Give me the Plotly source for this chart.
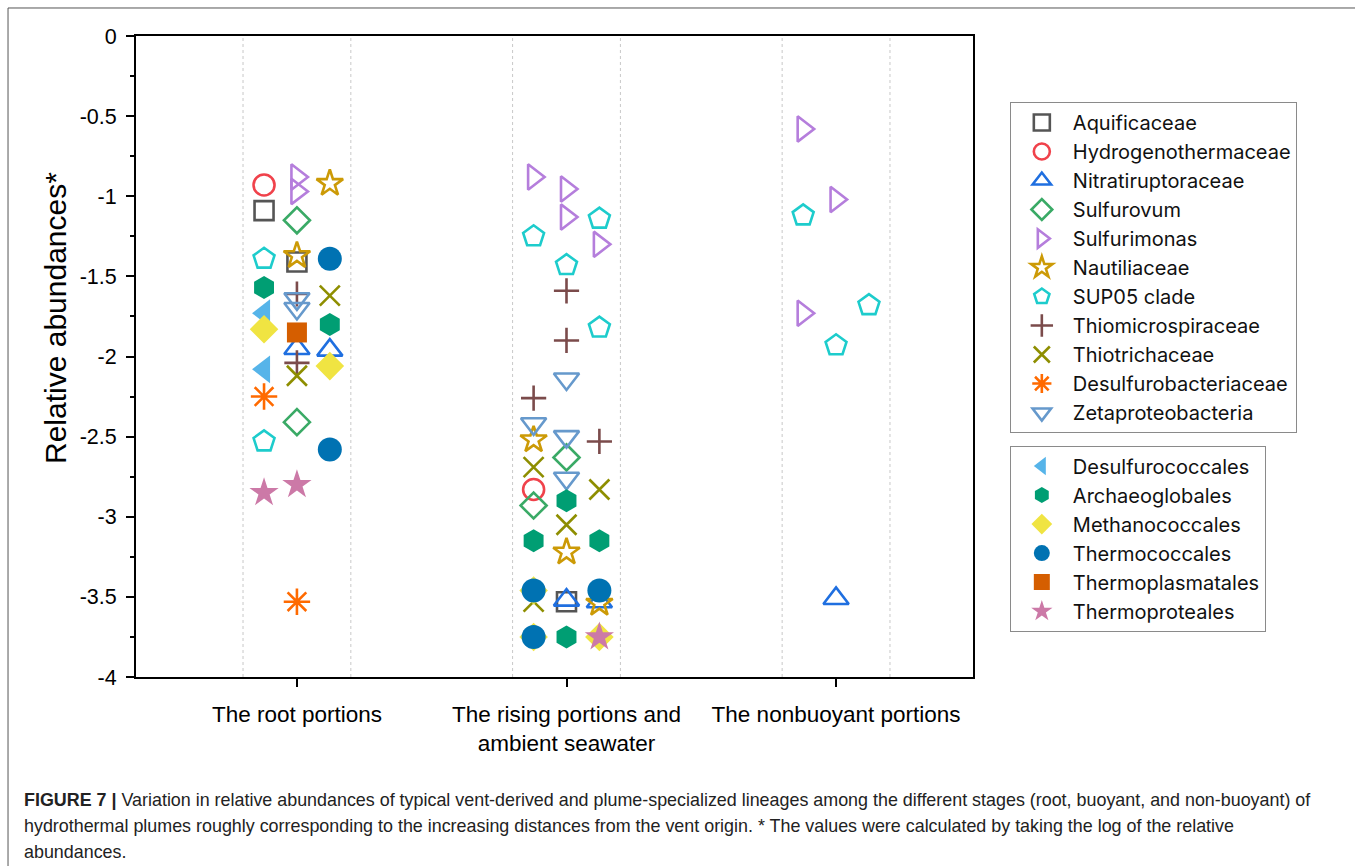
import plotly.graph_objects as go

# ---------------- data ----------------
stages = ["The root portions", "The rising portions and<br>ambient seawater", "The nonbuoyant portions"]
y_tick_vals = [0, -0.5, -1, -1.5, -2, -2.5, -3, -3.5, -4]
y_tick_text = ["0", "-0.5", "-1", "-1.5", "-2", "-2.5", "-3", "-3.5", "-4"]

# each point: (stage index, slot within stage: -1 left / 0 centre / 1 right, value)
aquificaceae = [(0, -1, -1.09), (0, 0, -1.41), (1, 0, -3.53)]
hydrogenothermaceae = [(0, -1, -0.93), (1, -1, -2.83)]
nitratiruptoraceae = [(0, 0, -1.95), (0, 1, -1.96), (1, 0, -3.52), (1, 1, -3.53), (2, 0, -3.51)]
sulfurovum = [(0, 0, -1.15), (0, 0, -2.41), (1, 0, -2.63), (1, -1, -2.93)]
sulfurimonas = [(0, 0, -0.88), (0, 0, -0.97), (1, -1, -0.88), (1, 0, -0.955), (1, 0, -1.13),
                (1, 1, -1.30), (2, -1, -0.58), (2, 0, -1.02), (2, -1, -1.73)]
nautiliaceae = [(0, 1, -0.92), (0, 0, -1.37), (1, -1, -2.52), (1, 0, -3.22), (1, 1, -3.54)]
sup05 = [(0, -1, -1.39), (0, -1, -2.53), (1, 1, -1.14), (1, -1, -1.25), (1, 0, -1.43),
         (1, 1, -1.82), (2, -1, -1.12), (2, 1, -1.68), (2, 0, -1.93)]
thiomicrospiraceae = [(0, 0, -1.61), (0, 0, -2.04), (1, 0, -1.59), (1, 0, -1.90), (1, -1, -2.26), (1, 1, -2.53)]
thiotrichaceae = [(0, 1, -1.62), (0, 0, -2.12), (1, -1, -2.69), (1, 1, -2.83), (1, 0, -3.05), (1, -1, -3.53)]
desulfurobacteriaceae = [(0, -1, -2.25), (0, 0, -3.53)]
zetaproteobacteria = [(0, 0, -1.64), (0, 0, -1.70), (1, 0, -2.14), (1, -1, -2.42), (1, 0, -2.50), (1, 0, -2.76)]
desulfurococcales = [(0, -1, -1.73), (0, -1, -2.08)]
archaeoglobales = [(0, -1, -1.57), (0, 1, -1.80), (1, 0, -2.90), (1, -1, -3.15), (1, 1, -3.15), (1, 0, -3.75)]
methanococcales = [(0, -1, -1.83), (0, 1, -2.06), (1, -1, -3.46), (1, -1, -3.75), (1, 1, -3.75)]
thermococcales = [(0, 1, -1.39), (0, 1, -2.58), (1, -1, -3.46), (1, 1, -3.46), (1, -1, -3.75)]
thermoplasmatales = [(0, 0, -1.85)]
thermoproteales = [(0, -1, -2.85), (0, 0, -2.80), (1, 1, -3.75)]

group1 = [
    ("Aquificaceae", aquificaceae, "square-open", "#555555", 19),
    ("Hydrogenothermaceae", hydrogenothermaceae, "circle-open", "#F0424B", 21),
    ("Nitratiruptoraceae", nitratiruptoraceae, "triangle-up-open", "#1F6FE0", 22),
    ("Sulfurovum", sulfurovum, "diamond-open", "#3AAA66", 20),
    ("Sulfurimonas", sulfurimonas, "triangle-right-open", "#B57EDC", 22),
    ("Nautiliaceae", nautiliaceae, "star-open", "#CC9A06", 20),
    ("SUP05 clade", sup05, "pentagon-open", "#1DCCCC", 22),
    ("Thiomicrospiraceae", thiomicrospiraceae, "cross-thin-open", "#7B4B4B", 18),
    ("Thiotrichaceae", thiotrichaceae, "x-thin-open", "#8E8E00", 20),
    ("Desulfurobacteriaceae", desulfurobacteriaceae, "asterisk-open", "#FF6A00", 22),
    ("Zetaproteobacteria", zetaproteobacteria, "triangle-down-open", "#6699CC", 22),
]
group2 = [
    ("Desulfurococcales", desulfurococcales, "triangle-left", "#56B4E9", 24),
    ("Archaeoglobales", archaeoglobales, "hexagon", "#009E73", 23),
    ("Methanococcales", methanococcales, "diamond", "#F0E442", 22),
    ("Thermococcales", thermococcales, "circle", "#0072B2", 24),
    ("Thermoplasmatales", thermoplasmatales, "square", "#D55E00", 20),
    ("Thermoproteales", thermoproteales, "star", "#CC79A7", 22),
]

SLOT = 0.122
FONT = "Liberation Sans, Arial, Helvetica, sans-serif"
LEGEND_FONT = "Inter, Liberation Sans, Arial, sans-serif"

fig = go.Figure()


def add_group(group, legend_name):
    for name, pts, sym, col, size in group:
        xs = [s + 1 + k * SLOT for s, k, v in pts]
        ys = [v for s, k, v in pts]
        is_open = sym.endswith("-open")
        fig.add_trace(go.Scatter(
            x=xs, y=ys, mode="markers", name=name, legend=legend_name,
            marker=dict(symbol=sym, size=size, color=col,
                        line=dict(width=2.6 if is_open else 0, color=col)),
        ))


add_group(group1, "legend")
add_group(group2, "legend2")

# dotted guide lines around each stage
for i in range(len(stages)):
    for d in (-0.2, 0.2):
        fig.add_shape(type="line", xref="x", yref="y domain", x0=i + 1 + d, x1=i + 1 + d, y0=0, y1=1,
                      line=dict(color="#c8c8c8", width=1, dash="dot"), layer="below")

# outer figure frame
fig.add_shape(type="rect", xref="paper", yref="paper", x0=-0.1529, x1=1.47, y0=-0.34, y1=1.0437,
              line=dict(color="#555555", width=1))

legend_common = dict(
    font=dict(family=LEGEND_FONT, size=20, color="#111111"),
    bgcolor="white", bordercolor="#8a8a8a", borderwidth=1,
    tracegroupgap=0, itemwidth=52,
    xanchor="left", yanchor="top", itemclick=False,
)

fig.update_layout(
    width=1355, height=866,
    margin=dict(l=136, r=382, t=36, b=189),
    plot_bgcolor="white", paper_bgcolor="white",
    font=dict(family=FONT, size=20, color="black"),
    legend=dict(x=1.044, y=0.897, **legend_common),
    legend2=dict(x=1.044, y=0.361, **legend_common),
    xaxis=dict(
        range=[0.403, 3.508], tickvals=[1, 2, 3], ticktext=stages,
        showgrid=False, zeroline=False, showline=True, linecolor="black", linewidth=2,
        mirror=True, ticks="outside", ticklen=8, tickwidth=2, tickcolor="black",
        tickfont=dict(family=FONT, size=22.5, color="black"), ticklabelstandoff=8,
    ),
    yaxis=dict(
        range=[-4, 0], tickvals=y_tick_vals, ticktext=y_tick_text,
        showgrid=False, zeroline=False, showline=True, linecolor="black", linewidth=2,
        mirror=True, ticks="outside", ticklen=8, tickwidth=2, tickcolor="black",
        tickfont=dict(family=FONT, size=21.5, color="black"), ticklabelstandoff=5,
        minor=dict(ticks="outside", ticklen=4, tickwidth=2, tickcolor="black", dtick=0.25, tick0=0, showgrid=False),
    ),
)

# y-axis title
fig.add_annotation(text="Relative abundances*", xref="paper", yref="paper",
                   x=(55 - 136) / 837, y=(677 - 318) / 641, textangle=-90,
                   xanchor="center", yanchor="middle", showarrow=False,
                   font=dict(family=FONT, size=30, color="black"))

CAP_FONT = "Liberation Sans, Arial, sans-serif"
caption_lines = [
    "<b>FIGURE 7 |</b> Variation in relative abundances of typical vent-derived and plume-specialized lineages among the different stages (root, buoyant, and non-buoyant) of",
    "hydrothermal plumes roughly corresponding to the increasing distances from the vent origin. * The values were calculated by taking the log of the relative",
    "abundances.",
]
for j, line in enumerate(caption_lines):
    fig.add_annotation(text=line, xref="paper", yref="paper", x=(22 - 136) / 837, y=(677 - 800 - 26 * j) / 641,
                       xanchor="left", yanchor="middle", showarrow=False, align="left",
                       font=dict(family=CAP_FONT, size=17.9, color="#222222"))

fig.write_html("out.html", config={"displayModeBar": False},
               post_script="document.body.style.margin='0px';")
